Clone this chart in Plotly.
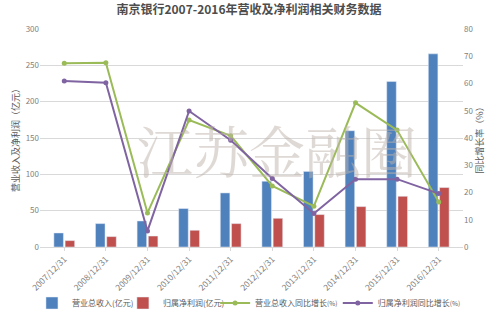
import plotly.graph_objects as go

categories = ["2007/12/31", "2008/12/31", "2009/12/31", "2010/12/31", "2011/12/31",
              "2012/12/31", "2013/12/31", "2014/12/31", "2015/12/31", "2016/12/31"]
revenue = [19.3, 32.2, 35.8, 52.9, 74.4, 90.5, 104.0, 160.0, 227.7, 265.8]
net_profit = [8.8, 14.3, 15.1, 23.0, 32.2, 39.5, 44.6, 55.6, 69.8, 81.8]
revenue_growth = [67.4, 67.6, 12.5, 46.6, 40.8, 22.4, 15.0, 52.9, 42.9, 16.5]
profit_growth = [60.9, 60.3, 5.9, 49.9, 39.2, 25.1, 12.3, 24.9, 24.9, 19.6]

blue = "#4F81BD"
red = "#C0504D"
green = "#9BBB59"
purple = "#8064A2"
font_family = "Noto Sans CJK SC"
pct = "<span style='font-size:6.5px'>(%)</span>"

fig = go.Figure()
fig.add_trace(go.Bar(x=categories, y=revenue, name="营业总收入(亿元)", marker_color=blue,
                     legend="legend"))
fig.add_trace(go.Bar(x=categories, y=net_profit, name="归属净利润(亿元)", marker_color=red,
                     legend="legend2"))
fig.add_trace(go.Scatter(x=categories, y=revenue_growth, name="营业总收入同比增长" + pct,
                         mode="lines+markers", yaxis="y2", legend="legend3",
                         line=dict(color=green, width=2), marker=dict(size=5, color=green)))
fig.add_trace(go.Scatter(x=categories, y=profit_growth, name="归属净利润同比增长" + pct,
                         mode="lines+markers", yaxis="y2", legend="legend4",
                         line=dict(color=purple, width=2), marker=dict(size=5, color=purple)))

def leg(x):
    return dict(orientation="h", x=x, xanchor="left", y=-0.257, yanchor="middle",
                font=dict(size=8, color="#595959"), itemwidth=30,
                bgcolor="rgba(0,0,0,0)")

fig.update_layout(
    width=498, height=311,
    margin=dict(l=40, r=35, t=29, b=64, autoexpand=False),
    paper_bgcolor="white", plot_bgcolor="white",
    font=dict(family=font_family, size=8, color="#7f7f7f"),
    title=dict(text="<b>南京银行2007-2016年营收及净利润相关财务数据</b>", x=0.5, xanchor="center",
               y=0.968, yanchor="middle",
               font=dict(family=font_family, size=12, color="#4d4d4d")),
    barmode="group", bargap=0.46, bargroupgap=0.15,
    showlegend=True,
    legend=leg(-0.019), legend2=leg(0.196), legend3=leg(0.414), legend4=leg(0.704),
    xaxis=dict(tickangle=-45, tickfont=dict(size=8.5, color="#7f7f7f"), showgrid=False,
               automargin=False,
               showline=True, linecolor="#d9d9d9", ticks="outside", ticklen=3, tickcolor="#d9d9d9"),
    yaxis=dict(range=[0, 300], dtick=50, gridcolor="#d9d9d9", gridwidth=1, zeroline=False,
               automargin=False, tickfont=dict(size=8, color="#7f7f7f"),
               title=dict(text="营业收入及净利润（亿元）", font=dict(size=9, color="#595959"), standoff=4)),
    yaxis2=dict(range=[0, 80], dtick=10, overlaying="y", side="right", showgrid=False,
                automargin=False, zeroline=False, tickfont=dict(size=8, color="#7f7f7f"),
                title=dict(text="同比增长率（%）", font=dict(size=9, color="#595959"), standoff=4)),
    annotations=[dict(text="江苏金融圈", xref="paper", yref="paper", x=0.56, y=0.45,
                      showarrow=False, opacity=0.5,
                      font=dict(family="Noto Serif CJK SC, Noto Sans CJK SC", size=56, color="#c0b4ac"))],
)

fig.write_html("out.html")
